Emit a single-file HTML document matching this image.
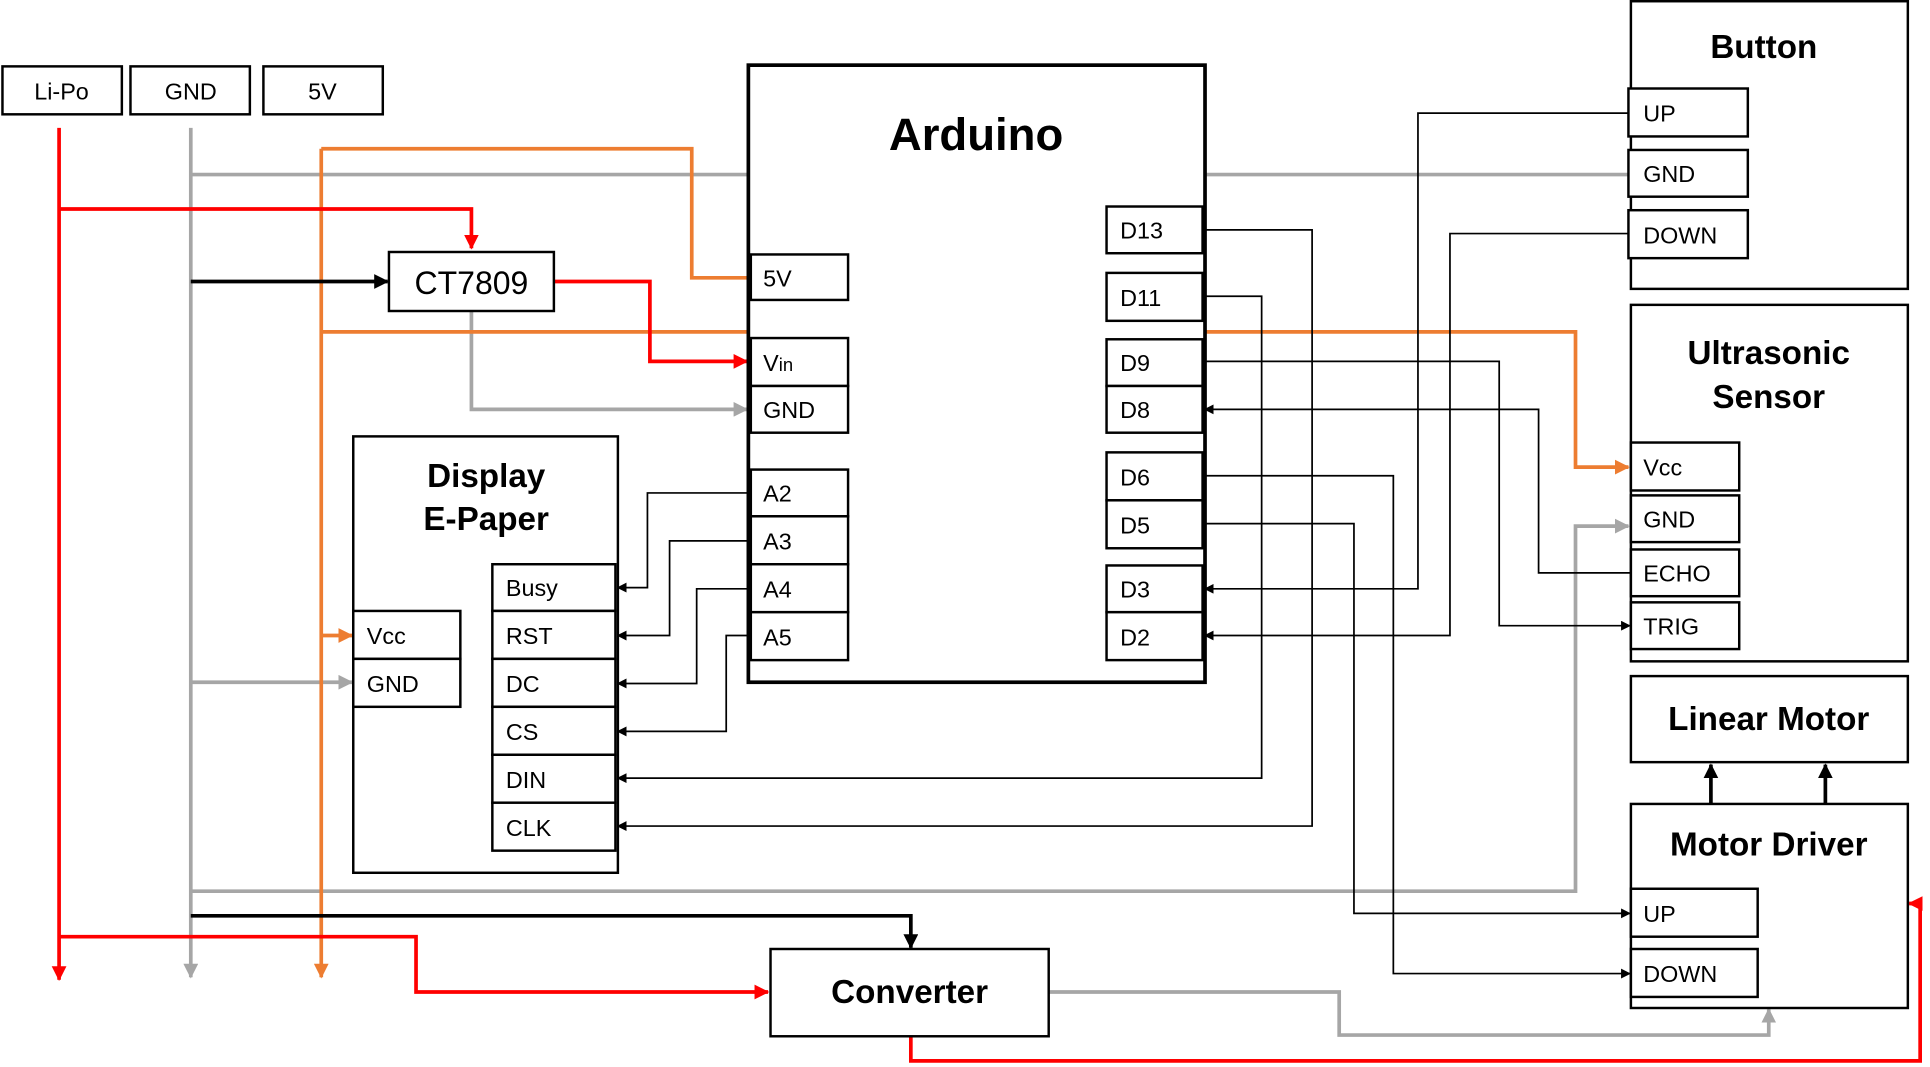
<!DOCTYPE html>
<html><head><meta charset="utf-8"><style>
html,body{margin:0;padding:0;background:#fff;}
svg{display:block}
text{font-family:"Liberation Sans","Noto Sans CJK KR",sans-serif;fill:#000}
.p{font-size:19px}
.b{font-weight:bold;font-size:27px}
</style></head><body>
<svg width="1930" height="1067" viewBox="0 0 1568 868" preserveAspectRatio="none" xmlns="http://www.w3.org/2000/svg">
<defs>
<marker id="ak" markerWidth="8" markerHeight="8" refX="7" refY="4" orient="auto" markerUnits="userSpaceOnUse"><path d="M0,0 L8,4 L0,8z" fill="#000"/></marker>
<marker id="ak2" markerWidth="12" markerHeight="12" refX="11" refY="6" orient="auto" markerUnits="userSpaceOnUse"><path d="M0,0 L12,6 L0,12z" fill="#000"/></marker>
<marker id="ar" markerWidth="12" markerHeight="12" refX="11" refY="6" orient="auto" markerUnits="userSpaceOnUse"><path d="M0,0 L12,6 L0,12z" fill="#f00"/></marker>
<marker id="ao" markerWidth="12" markerHeight="12" refX="11" refY="6" orient="auto" markerUnits="userSpaceOnUse"><path d="M0,0 L12,6 L0,12z" fill="#ed7d31"/></marker>
<marker id="ag" markerWidth="12" markerHeight="12" refX="11" refY="6" orient="auto" markerUnits="userSpaceOnUse"><path d="M0,0 L12,6 L0,12z" fill="#a6a6a6"/></marker>
</defs>
<g fill="none" stroke-width="3">
<!-- gray -->
<g stroke="#a6a6a6">
<path d="M155,104 V795" marker-end="url(#ag)"/>
<path d="M155,142 H608 M979,142 H1325"/>
<path d="M383,253 V333 H607" marker-end="url(#ag)"/>
<path d="M155,555 H286" marker-end="url(#ag)"/>
<path d="M155,725 H1280 V428 H1323" marker-end="url(#ag)"/>
<path d="M852,807 H1088 V842 H1437 V821" marker-end="url(#ag)"/>
</g>
<!-- orange -->
<g stroke="#ed7d31">
<path d="M261,121 V795" marker-end="url(#ao)"/>
<path d="M261,121 H562 V226 H608"/>
<path d="M261,270 H608"/>
<path d="M261,517 H286" marker-end="url(#ao)"/>
<path d="M979,270 H1280 V380 H1323" marker-end="url(#ao)"/>
</g>
<!-- red -->
<g stroke="#f00">
<path d="M48,104 V797" marker-end="url(#ar)"/>
<path d="M48,170 H383 V202" marker-end="url(#ar)"/>
<path d="M450,229 H528 V294 H607" marker-end="url(#ar)"/>
<path d="M48,762 H338 V807 H624" marker-end="url(#ar)"/>
<path d="M740,843 V863 H1560 V735 H1551" marker-end="url(#ar)"/>
</g>
<!-- black thick -->
<g stroke="#000">
<path d="M155,229 H315" marker-end="url(#ak2)"/>
<path d="M155,745 H740 V771" marker-end="url(#ak2)"/>
<path d="M1390,654 V622" marker-end="url(#ak2)"/>
<path d="M1483,654 V622" marker-end="url(#ak2)"/>
</g>
<!-- thin black -->
<g stroke="#000" stroke-width="1.4">
<path d="M608,401 H526 V478 H502" marker-end="url(#ak)"/>
<path d="M608,440 H544 V517 H502" marker-end="url(#ak)"/>
<path d="M608,479 H566 V556 H502" marker-end="url(#ak)"/>
<path d="M608,517 H590 V595 H502" marker-end="url(#ak)"/>
<path d="M979,241 H1025 V633 H502" marker-end="url(#ak)"/>
<path d="M979,187 H1066 V672 H502" marker-end="url(#ak)"/>
<path d="M979,294 H1218 V509 H1324" marker-end="url(#ak)"/>
<path d="M1325,466 H1250 V333 H979" marker-end="url(#ak)"/>
<path d="M1325,92 H1152 V479 H979" marker-end="url(#ak)"/>
<path d="M1325,190 H1178 V517 H979" marker-end="url(#ak)"/>
<path d="M979,387 H1132 V792 H1324" marker-end="url(#ak)"/>
<path d="M979,426 H1100 V743 H1324" marker-end="url(#ak)"/>
</g>
</g>
<!-- boxes -->
<g fill="#fff" stroke="#000" stroke-width="2">
<rect x="2" y="54" width="97" height="39"/>
<rect x="106" y="54" width="97" height="39"/>
<rect x="214" y="54" width="97" height="39"/>
<rect x="316" y="205" width="134" height="48"/>
<rect x="608" y="53" width="371" height="502" stroke-width="3"/>
<rect x="610" y="207" width="79" height="37"/>
<rect x="610" y="275" width="79" height="39"/>
<rect x="610" y="314" width="79" height="38"/>
<rect x="610" y="382" width="79" height="38"/>
<rect x="610" y="420" width="79" height="39"/>
<rect x="610" y="459" width="79" height="39"/>
<rect x="610" y="498" width="79" height="39"/>
<rect x="899" y="168" width="78" height="38"/>
<rect x="899" y="222" width="78" height="39"/>
<rect x="899" y="276" width="78" height="38"/>
<rect x="899" y="314" width="78" height="38"/>
<rect x="899" y="368" width="78" height="39"/>
<rect x="899" y="407" width="78" height="39"/>
<rect x="899" y="460" width="78" height="38"/>
<rect x="899" y="498" width="78" height="39"/>
<rect x="287" y="355" width="215" height="355"/>
<rect x="400" y="459" width="100" height="38"/>
<rect x="400" y="497" width="100" height="39"/>
<rect x="400" y="536" width="100" height="39"/>
<rect x="400" y="575" width="100" height="39"/>
<rect x="400" y="614" width="100" height="39"/>
<rect x="400" y="653" width="100" height="39"/>
<rect x="287" y="497" width="87" height="39"/>
<rect x="287" y="536" width="87" height="39"/>
<rect x="1325" y="1" width="225" height="234"/>
<rect x="1323" y="72" width="97" height="39"/>
<rect x="1323" y="122" width="97" height="38"/>
<rect x="1323" y="171" width="97" height="39"/>
<rect x="1325" y="248" width="225" height="290"/>
<rect x="1325" y="360" width="88" height="39"/>
<rect x="1325" y="403" width="88" height="38"/>
<rect x="1325" y="447" width="88" height="38"/>
<rect x="1325" y="490" width="88" height="38"/>
<rect x="1325" y="550" width="225" height="70"/>
<rect x="1325" y="654" width="225" height="166"/>
<rect x="1325" y="723" width="103" height="39"/>
<rect x="1325" y="772" width="103" height="39"/>
<rect x="626" y="772" width="226" height="71"/>
</g>
<!-- text -->
<g class="p">
<text x="50" y="81" text-anchor="middle">Li-Po</text>
<text x="155" y="81" text-anchor="middle">GND</text>
<text x="262" y="81" text-anchor="middle">5V</text>
<text x="383" y="239" text-anchor="middle" style="font-size:26px">CT7809</text>
<text x="620" y="233">5V</text>
<text x="620" y="302">V<tspan style="font-size:15px">in</tspan></text>
<text x="620" y="340">GND</text>
<text x="620" y="408">A2</text>
<text x="620" y="447">A3</text>
<text x="620" y="486">A4</text>
<text x="620" y="525">A5</text>
<text x="910" y="194">D13</text>
<text x="910" y="249">D11</text>
<text x="910" y="302">D9</text>
<text x="910" y="340">D8</text>
<text x="910" y="395">D6</text>
<text x="910" y="434">D5</text>
<text x="910" y="486">D3</text>
<text x="910" y="525">D2</text>
<text x="411" y="485">Busy</text>
<text x="411" y="524">RST</text>
<text x="411" y="563">DC</text>
<text x="411" y="602">CS</text>
<text x="411" y="641">DIN</text>
<text x="411" y="680">CLK</text>
<text x="298" y="524">Vcc</text>
<text x="298" y="563">GND</text>
<text x="1335" y="99">UP</text>
<text x="1335" y="148">GND</text>
<text x="1335" y="198">DOWN</text>
<text x="1335" y="387">Vcc</text>
<text x="1335" y="429">GND</text>
<text x="1335" y="473">ECHO</text>
<text x="1335" y="516">TRIG</text>
<text x="1335" y="750">UP</text>
<text x="1335" y="799">DOWN</text>
</g>
<g class="b" text-anchor="middle">
<text x="793" y="122" style="font-size:37px">Arduino</text>
<text x="395" y="396">Display</text>
<text x="395" y="431">E-Paper</text>
<text x="1433" y="47">Button</text>
<text x="1437" y="296">Ultrasonic</text>
<text x="1437" y="332">Sensor</text>
<text x="1437" y="594">Linear Motor</text>
<text x="1437" y="696">Motor Driver</text>
<text x="739" y="816">Converter</text>
</g>
</svg>
</body></html>
